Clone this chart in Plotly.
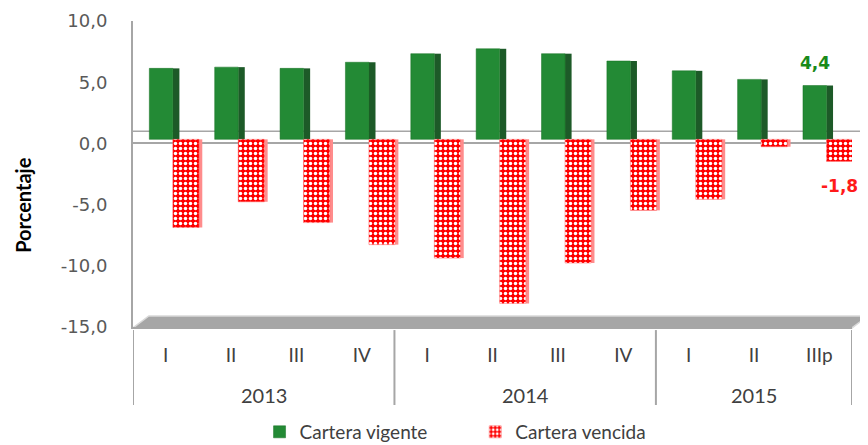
import plotly.graph_objects as go

years = ["2013", "2014", "2015"]
year_sizes = [4, 4, 3]
quarters = ["I", "II", "III", "IV", "I", "II", "III", "IV", "I", "II", "IIIp"]
vigente = [5.8, 5.9, 5.8, 6.3, 7.0, 7.4, 7.0, 6.4, 5.6, 4.9, 4.4]
vencida = [-7.2, -5.1, -6.8, -8.6, -9.7, -13.4, -10.1, -5.8, -4.9, -0.6, -1.8]
y_ticks = [10, 5, 0, -5, -10, -15]
Y_MIN, Y_MAX = -15, 10

def fmt(v):
    return f"{v:.1f}".replace(".", ",")

xs = list(range(len(quarters)))
G_OFF, G_W = -0.25, 0.36
R_OFF, R_W = 0.11, 0.40
DEPTH = 0.33  # 3D perspective lift of the bars relative to the front axis

LABEL_FONT = "Lato, Carlito, Calibri, sans-serif"

fig = go.Figure()
# invisible trace so the front (tick) axis is drawn
fig.add_trace(go.Scatter(x=[xs[0]], y=[0], mode="none", showlegend=False, hoverinfo="skip"))
# green side faces (3D look)
fig.add_trace(go.Bar(x=xs, y=vigente, offset=G_OFF + G_W, width=0.1, yaxis="y2",
                     marker=dict(color="#1d5a28", line=dict(width=0)),
                     showlegend=False, hoverinfo="skip"))
fig.add_trace(go.Bar(x=xs, y=vigente, offset=G_OFF, width=G_W, name="Cartera vigente",
                     legend="legend", yaxis="y2",
                     marker=dict(color="#238a35", line=dict(color="#157020", width=0.5))))
fig.add_trace(go.Bar(x=xs, y=vencida, offset=R_OFF + R_W, width=0.05, yaxis="y2",
                     marker=dict(color="#ff8c8c", line=dict(width=0)),
                     showlegend=False, hoverinfo="skip"))
fig.add_trace(go.Bar(x=xs, y=vencida, offset=R_OFF, width=R_W, name="Cartera vencida",
                     legend="legend2", yaxis="y2",
                     marker=dict(color="#ff0000", line=dict(color="#ff5050", width=0.5),
                                 pattern=dict(shape=".", fgcolor="white", bgcolor="#ff0000",
                                              size=5, solidity=0.38, fillmode="replace"))))

n = len(quarters)
fig.add_annotation(x=n - 1 + G_OFF + G_W / 2, y=vigente[-1], yref="y2", text="<b>" + fmt(vigente[-1]) + "</b>",
                   showarrow=False, yshift=23, font=dict(family="DejaVu Sans", size=17, color="#1a8a1a"))
fig.add_annotation(x=n - 1 + R_OFF + R_W / 2, y=vencida[-1], yref="y2", text="<b>" + fmt(vencida[-1]) + "</b>",
                   showarrow=False, yshift=-25, font=dict(family="DejaVu Sans", size=17, color="#ff1a1a"))

# year labels and group dividers
start = 0
bounds = [-0.5]
for yr, sz in zip(years, year_sizes):
    fig.add_annotation(x=start + (sz - 1) / 2, y=-0.222, xref="x", yref="paper", text=yr,
                       xanchor="center", yanchor="middle",
                       showarrow=False, font=dict(family=LABEL_FONT, size=20, color="#404040"))
    start += sz
    bounds.append(start - 0.5)
for b in bounds:
    fig.add_shape(type="line", xref="x", yref="paper", x0=b, x1=b, y0=-0.01, y1=-0.255,
                  line=dict(color="#a6a6a6", width=2))

# y-axis title
fig.add_annotation(x=-0.154, y=0.40, xref="paper", yref="paper", text="<b>Porcentaje</b>",
                   textangle=-90, showarrow=False, xanchor="center", yanchor="middle",
                   font=dict(family=LABEL_FONT, size=20, color="black"))

# back wall zero line and floor slab (decoration)
fig.add_shape(type="line", xref="paper", yref="paper", x0=0.0, x1=1.022, y0=0.64, y1=0.64,
              line=dict(color="#a6a6a6", width=1.5), layer="below")
fig.add_shape(type="path", xref="paper", yref="paper",
              path="M 0,-0.003 L 0.022,0.036 L 1.022,0.036 L 1.0,-0.003 Z",
              fillcolor="#a6a6a6", line=dict(color="#d9d9d9", width=1.5), layer="below")

# page body has an 8px margin: figure is 860x437 and margins are shifted by 8px
fig.update_layout(
    width=860, height=437,
    margin=dict(l=125, r=16, t=13, b=118, autoexpand=False),
    plot_bgcolor="white", paper_bgcolor="white",
    barmode="overlay",
    font=dict(family=LABEL_FONT, color="#404040", size=18),
    legend=dict(orientation="h", x=0.176, xanchor="left", y=-0.343, yanchor="middle",
                font=dict(family=LABEL_FONT, size=19, color="#404040"), itemwidth=30,
                bgcolor="rgba(0,0,0,0)"),
    legend2=dict(orientation="h", x=0.476, xanchor="left", y=-0.343, yanchor="middle",
                 font=dict(family=LABEL_FONT, size=19, color="#404040"), itemwidth=30,
                 bgcolor="rgba(0,0,0,0)"),
    yaxis=dict(range=[Y_MIN, Y_MAX], tickvals=y_ticks, ticktext=[fmt(v) for v in y_ticks],
               showgrid=False, automargin=False,
               zeroline=True, zerolinecolor="#a6a6a6", zerolinewidth=1.5,
               showline=True, linecolor="#a6a6a6", linewidth=2, ticks="",
               ticklabelstandoff=20,
               tickfont=dict(family="DejaVu Sans", size=18, color="#595959")),
    yaxis2=dict(range=[Y_MIN - DEPTH, Y_MAX - DEPTH], overlaying="y", visible=False),
    xaxis=dict(range=[-0.5, n - 0.5], tickvals=xs, ticktext=quarters, automargin=False,
               showline=True, linecolor="#a6a6a6", linewidth=2, showgrid=False,
               ticklabelstandoff=10,
               tickfont=dict(family=LABEL_FONT, size=19, color="#404040"), ticks=""),
)

fig.write_html("out.html")
